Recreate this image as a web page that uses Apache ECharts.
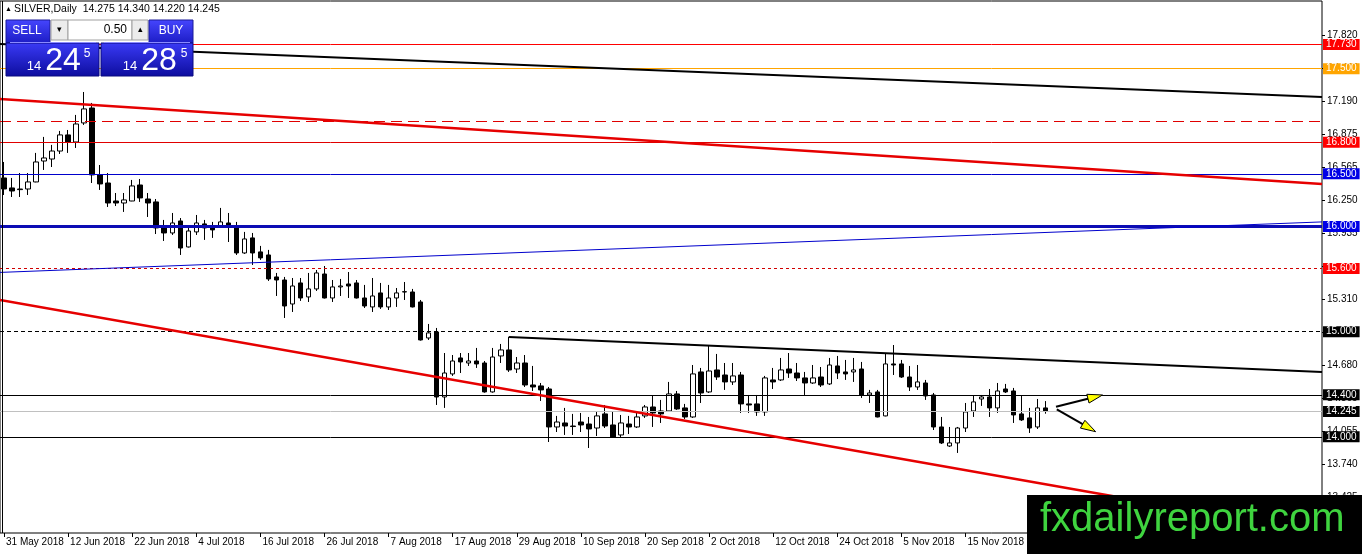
<!DOCTYPE html>
<html><head><meta charset="utf-8">
<script src="https://cdn.jsdelivr.net/npm/echarts@6/dist/echarts.min.js"></script>
<style>html,body{margin:0;padding:0;background:#fff;}#c{width:1362px;height:554px;}</style>
</head><body><div id="c"></div>
<script>
// ---- data (daily bars, 31 May 2018 .. 29 Nov 2018) ----
const tickLabels = ['31 May 2018','12 Jun 2018','22 Jun 2018','4 Jul 2018','16 Jul 2018','26 Jul 2018','7 Aug 2018','17 Aug 2018','29 Aug 2018','10 Sep 2018','20 Sep 2018','2 Oct 2018','12 Oct 2018','24 Oct 2018','5 Nov 2018','15 Nov 2018'];
const open = [16.461,16.366,16.356,16.356,16.423,16.622,16.641,16.717,16.870,16.803,16.984,17.126,16.490,16.413,16.242,16.223,16.242,16.394,16.261,16.233,15.995,15.938,16.052,15.805,15.948,16.024,15.986,16.005,16.033,16.005,15.748,15.891,15.758,15.729,15.520,15.491,15.263,15.463,15.330,15.406,15.548,15.320,15.425,15.453,15.463,15.320,15.235,15.368,15.235,15.320,15.377,15.377,15.282,14.940,14.997,14.379,14.598,14.750,14.702,14.721,14.702,14.427,14.769,14.826,14.645,14.702,14.493,14.484,14.455,14.094,14.132,14.103,14.141,14.122,14.084,14.218,14.113,14.018,14.122,14.094,14.199,14.284,14.246,14.246,14.408,14.275,14.189,14.617,14.427,14.636,14.588,14.522,14.588,14.313,14.313,14.237,14.541,14.541,14.645,14.607,14.560,14.512,14.569,14.503,14.674,14.617,14.617,14.645,14.398,14.427,14.199,14.693,14.693,14.569,14.474,14.512,14.398,14.094,13.913,13.942,14.084,14.246,14.360,14.379,14.275,14.455,14.436,14.218,14.180,14.094,14.275];
const high = [16.613,16.461,16.508,16.508,16.699,16.851,16.775,16.908,16.917,17.060,17.278,17.174,16.584,16.508,16.318,16.318,16.442,16.451,16.318,16.261,16.062,16.128,16.080,15.995,16.109,16.062,16.043,16.176,16.128,16.043,15.948,15.938,15.815,15.777,15.558,15.520,15.510,15.510,15.558,15.586,15.624,15.491,15.501,15.567,15.491,15.444,15.510,15.463,15.444,15.415,15.472,15.406,15.301,15.073,15.035,14.797,14.778,14.797,14.797,14.845,14.721,14.845,14.883,14.950,14.759,14.778,14.674,14.512,14.474,14.199,14.275,14.218,14.227,14.189,14.237,14.303,14.237,14.208,14.199,14.227,14.303,14.389,14.351,14.522,14.436,14.313,14.683,14.655,14.873,14.788,14.702,14.702,14.617,14.398,14.398,14.579,14.655,14.750,14.797,14.702,14.617,14.683,14.664,14.750,14.769,14.731,14.750,14.712,14.446,14.446,14.797,14.873,14.731,14.674,14.683,14.541,14.417,14.189,14.094,14.094,14.322,14.389,14.398,14.455,14.512,14.503,14.465,14.389,14.275,14.360,14.340];
const low = [16.299,16.280,16.280,16.299,16.420,16.537,16.565,16.689,16.699,16.746,16.965,16.413,16.347,16.185,16.194,16.138,16.240,16.233,16.090,15.928,15.862,15.919,15.729,15.800,15.919,15.872,15.891,15.986,15.852,15.729,15.739,15.634,15.682,15.482,15.339,15.130,15.187,15.292,15.282,15.387,15.315,15.282,15.339,15.320,15.315,15.225,15.187,15.216,15.206,15.235,15.301,15.230,14.915,14.921,14.303,14.275,14.579,14.607,14.674,14.655,14.420,14.420,14.702,14.617,14.607,14.474,14.436,14.341,13.951,14.046,14.018,14.018,14.046,13.894,14.008,14.084,13.989,13.989,14.027,14.084,14.180,14.094,14.132,14.237,14.256,14.170,14.180,14.322,14.417,14.541,14.446,14.493,14.227,14.227,14.199,14.199,14.455,14.531,14.560,14.531,14.398,14.503,14.474,14.493,14.550,14.541,14.522,14.370,14.322,14.185,14.195,14.588,14.560,14.436,14.446,14.351,14.065,13.932,13.904,13.847,14.046,14.189,14.294,14.189,14.227,14.417,14.132,14.151,14.037,14.075,14.220];
const close = [16.356,16.337,16.350,16.423,16.613,16.651,16.717,16.870,16.803,16.974,17.117,16.490,16.404,16.223,16.223,16.252,16.385,16.271,16.223,15.986,15.938,16.033,15.795,15.957,16.033,15.986,15.967,16.043,15.995,15.748,15.881,15.748,15.701,15.501,15.491,15.244,15.434,15.320,15.406,15.558,15.320,15.425,15.434,15.434,15.320,15.244,15.339,15.235,15.320,15.368,15.380,15.235,14.921,14.988,14.379,14.607,14.721,14.712,14.721,14.693,14.427,14.759,14.826,14.636,14.702,14.493,14.474,14.446,14.094,14.141,14.103,14.098,14.113,14.075,14.199,14.103,13.999,14.132,14.094,14.189,14.284,14.227,14.218,14.408,14.265,14.189,14.598,14.417,14.626,14.569,14.522,14.579,14.313,14.303,14.237,14.560,14.522,14.636,14.607,14.560,14.512,14.560,14.493,14.683,14.607,14.598,14.636,14.398,14.417,14.189,14.693,14.683,14.569,14.474,14.522,14.389,14.094,13.942,13.942,14.084,14.237,14.332,14.379,14.275,14.436,14.427,14.208,14.161,14.084,14.275,14.245];
const priceTicks = [13.425,13.740,14.055,14.365,14.680,14.995,15.310,15.620,15.935,16.250,16.565,16.875,17.190,17.505,17.820];
const priceTickLabels = [13.425,13.740,14.055,14.365,14.680,14.995,15.310,15.935,16.250,16.565,16.875,17.190,17.505,17.820];
const levelPrices = [17.730,17.500,17.000,16.800,16.500,16.000,15.600,15.000,14.400,14.245,14.000];
// trend lines as [bar index, price] end points
const trendTopBlack = [[-0.5,17.735],[164.5,17.231]];
const trendTopRed   = [[-0.5,17.212],[164.5,16.404]];
const trendBlue     = [[-0.5,15.563],[164.5,16.043]];
const trendLowRed   = [[-0.5,15.301],[164.5,13.086]];
const trendMidBlack = [[63,14.949],[164.5,14.617]];
// arrows: [tailIndex, tailPrice, tipIndex, tipPrice]
const arrowUp   = [131.3,14.286,137.1,14.398];
const arrowDown = [131.4,14.262,136.25,14.049];
const bid = 14.245, ask = 14.285;

// ---- chart ----
const NCAT = 165;
const categories = Array.from({length: NCAT}, (_, i) => String(i));
const candles = open.map((o, i) => [o, close[i], low[i], high[i]]);
const FONT = '"Liberation Sans", Arial, sans-serif';

const levelStyle = [
  {c:'#ff0000', w:1, t:'solid', bg:'#ff0000'},
  {c:'#ffa500', w:1, t:'solid', bg:'#ffa500'},
  {c:'#e00000', w:1, t:[11,6], bg:null},
  {c:'#e00000', w:1, t:'solid', bg:'#ff0000'},
  {c:'#0000cc', w:1, t:'solid', bg:'#0000e6'},
  {c:'#0c0cb4', w:3, t:'solid', bg:'#0000e6'},
  {c:'#d00000', w:1, t:[3,3], bg:'#ff0000'},
  {c:'#000000', w:1, t:[4,3], bg:'#000000'},
  {c:'#000000', w:1, t:'solid', bg:'#000000'},
  {c:'#c0c0c0', w:1, t:'solid', bg:'#000000'},
  {c:'#000000', w:1, t:'solid', bg:'#000000'}
];
const levelData = levelPrices.map((p, i) => {
  const s = levelStyle[i];
  return {
    name: p.toFixed(3),
    yAxis: p,
    lineStyle: {color: s.c, width: s.w, type: s.t},
    label: s.bg ? {show: true, backgroundColor: s.bg} : {show: false}
  };
});

function trend(data, color, width) {
  return {type: 'line', xAxisIndex: 1, yAxisIndex: 0, data: data, showSymbol: false, symbol: 'none',
    lineStyle: {color: color, width: width}, z: 4, silent: true, clip: true, animation: false};
}

const chart = echarts.init(document.getElementById('c'), null, {renderer: 'canvas'});
const blueGrad = () => new echarts.graphic.LinearGradient(0,0,0,1,[{offset:0,color:'#3a3af6'},{offset:1,color:'#0d0d9e'}]);
const btnGrad = () => new echarts.graphic.LinearGradient(0,0,0,1,[{offset:0,color:'#4646ff'},{offset:1,color:'#1c1cc4'}]);

const last = open.length - 1;
const header = 'SILVER,Daily  ' + open[last].toFixed(3) + ' ' + high[last].toFixed(3) + ' ' + low[last].toFixed(3) + ' ' + close[last].toFixed(3);
const bidStr = bid.toFixed(3), askStr = ask.toFixed(3);

chart.setOption({
  animation: false,
  backgroundColor: '#ffffff',
  grid: {left: -1, top: 1, width: 1323, height: 532, show: true, borderColor: '#000', borderWidth: 1, backgroundColor: 'transparent'},
  xAxis: [
    {type: 'category', data: categories, boundaryGap: true,
     axisLine: {show: false, onZero: false},
     axisTick: {show: true, interval: 7, alignWithLabel: true, length: 4, lineStyle: {color: '#000'}},
     axisLabel: {show: true, interval: 7, align: 'left', margin: 4, padding: [0,0,0,2], fontSize: 10, fontFamily: FONT, color: '#000',
       formatter: (v, i) => (i % 8 === 0 && tickLabels[i / 8]) ? tickLabels[i / 8] : ''},
     splitLine: {show: false}},
    {type: 'value', min: -0.5, max: NCAT - 0.5, show: false, axisLine: {onZero: false}, splitLine: {show: false}}
  ],
  yAxis: [{type: 'value', position: 'right', min: 13.086, max: 18.143, scale: true,
    axisLine: {show: false, onZero: false},
    axisTick: {show: true, length: 3, customValues: priceTicks, lineStyle: {color: '#000'}},
    axisLabel: {show: true, customValues: priceTickLabels, margin: 5, fontSize: 10, fontFamily: FONT, color: '#000', formatter: v => v.toFixed(3)},
    splitLine: {show: false}}],
  series: [
    {type: 'candlestick', xAxisIndex: 0, yAxisIndex: 0, data: candles, barWidth: 5,
     itemStyle: {color: '#ffffff', color0: '#000000', borderColor: '#000000', borderColor0: '#000000', borderColorDoji: '#000000', borderWidth: 1},
     markLine: {silent: true, symbol: ['none','none'], animation: false, z: 3,
       label: {position: 'end', distance: 1, color: '#fff', fontSize: 10, fontFamily: FONT, padding: [1,3,0,3], lineHeight: 10,
         formatter: '{b}'},
       data: levelData}},
    trend(trendTopBlack, '#000000', 2),
    trend(trendTopRed, '#e60000', 2.5),
    trend(trendBlue, '#0000cc', 1),
    trend(trendLowRed, '#e60000', 2.5),
    trend(trendMidBlack, '#000000', 2),
    {type: 'custom', xAxisIndex: 1, yAxisIndex: 0, z: 6, silent: true,
     data: [arrowUp, arrowDown],
     encode: {x: [0, 2], y: [1, 3]},
     renderItem: function (params, api) {
       const p0 = api.coord([api.value(0), api.value(1)]);
       const p1 = api.coord([api.value(2), api.value(3)]);
       const dx = p1[0] - p0[0], dy = p1[1] - p0[1];
       const len = Math.sqrt(dx * dx + dy * dy);
       const ux = dx / len, uy = dy / len, nx = -uy, ny = ux;
       const hl = 15, hw = 4.5;
       const b = [p1[0] - ux * hl, p1[1] - uy * hl];
       return {type: 'group', children: [
         {type: 'line', shape: {x1: p0[0], y1: p0[1], x2: b[0] + ux * 2, y2: b[1] + uy * 2}, style: {stroke: '#000', lineWidth: 2}},
         {type: 'polygon', shape: {points: [p1, [b[0] + nx * hw, b[1] + ny * hw], [b[0] - nx * hw, b[1] - ny * hw]]},
          style: {fill: '#ffff00', stroke: '#000', lineWidth: 1}}
       ]};
     }}
  ],
  graphic: [
    {type: 'line', z: 50, shape: {x1: 2.5, y1: 1, x2: 2.5, y2: 533}, style: {stroke: '#000', lineWidth: 1}},
    {type: 'text', z: 100, style: {text: '\u25B2', x: 5, y: 9, font: '7px ' + FONT, fill: '#000', verticalAlign: 'middle'}},
    {type: 'text', z: 100, style: {text: header, x: 14, y: 9, font: '10.5px ' + FONT, fill: '#000', verticalAlign: 'middle'}},
    // one-click trading panel
    {type: 'rect', z: 100, shape: {x: 6, y: 20, width: 44, height: 23}, style: {fill: btnGrad(), stroke: '#1a1a9a', lineWidth: 1}},
    {type: 'text', z: 101, style: {text: 'SELL', x: 27, y: 31, font: '12px ' + FONT, fill: '#fff', align: 'center', verticalAlign: 'middle'}},
    {type: 'rect', z: 100, shape: {x: 51, y: 20, width: 17, height: 20}, style: {fill: '#ececec', stroke: '#a0a0a0', lineWidth: 1}},
    {type: 'text', z: 101, style: {text: '\u25BE', x: 59.5, y: 30, font: '9px ' + FONT, fill: '#000', align: 'center', verticalAlign: 'middle'}},
    {type: 'rect', z: 100, shape: {x: 68, y: 20, width: 64, height: 20}, style: {fill: '#fff', stroke: '#a0a0a0', lineWidth: 1}},
    {type: 'text', z: 101, style: {text: '0.50', x: 127, y: 30, font: '12px ' + FONT, fill: '#000', align: 'right', verticalAlign: 'middle'}},
    {type: 'rect', z: 100, shape: {x: 132, y: 20, width: 16, height: 20}, style: {fill: '#ececec', stroke: '#a0a0a0', lineWidth: 1}},
    {type: 'text', z: 101, style: {text: '\u25B4', x: 140, y: 30, font: '9px ' + FONT, fill: '#000', align: 'center', verticalAlign: 'middle'}},
    {type: 'rect', z: 100, shape: {x: 149, y: 20, width: 44, height: 23}, style: {fill: btnGrad(), stroke: '#1a1a9a', lineWidth: 1}},
    {type: 'text', z: 101, style: {text: 'BUY', x: 171, y: 31, font: '12px ' + FONT, fill: '#fff', align: 'center', verticalAlign: 'middle'}},
    {type: 'rect', z: 100, shape: {x: 6, y: 43, width: 93, height: 33}, style: {fill: blueGrad(), stroke: '#0a0a80', lineWidth: 1}},
    {type: 'rect', z: 100, shape: {x: 101, y: 43, width: 92, height: 33}, style: {fill: blueGrad(), stroke: '#0a0a80', lineWidth: 1}},
    {type: 'line', z: 101, shape: {x1: 10, y1: 42.5, x2: 96, y2: 42.5}, style: {stroke: '#8a8aff', lineWidth: 1}},
    {type: 'line', z: 101, shape: {x1: 104, y1: 42.5, x2: 190, y2: 42.5}, style: {stroke: '#8a8aff', lineWidth: 1}},
    {type: 'text', z: 101, style: {text: bidStr.slice(0, 2), x: 34, y: 66, font: '13px ' + FONT, fill: '#fff', align: 'center', verticalAlign: 'middle'}},
    {type: 'text', z: 101, style: {text: bidStr.slice(3, 5), x: 63, y: 61, font: '32px ' + FONT, fill: '#fff', align: 'center', verticalAlign: 'middle'}},
    {type: 'text', z: 101, style: {text: bidStr.slice(5, 6), x: 87, y: 54, font: '12px ' + FONT, fill: '#fff', align: 'center', verticalAlign: 'middle'}},
    {type: 'text', z: 101, style: {text: askStr.slice(0, 2), x: 130, y: 66, font: '13px ' + FONT, fill: '#fff', align: 'center', verticalAlign: 'middle'}},
    {type: 'text', z: 101, style: {text: askStr.slice(3, 5), x: 159, y: 61, font: '32px ' + FONT, fill: '#fff', align: 'center', verticalAlign: 'middle'}},
    {type: 'text', z: 101, style: {text: askStr.slice(5, 6), x: 184, y: 54, font: '12px ' + FONT, fill: '#fff', align: 'center', verticalAlign: 'middle'}},
    // watermark
    {type: 'rect', z: 100, shape: {x: 1027, y: 495, width: 335, height: 59}, style: {fill: '#000'}},
    {type: 'text', z: 101, style: {text: 'fxdailyreport.com', x: 1040, y: 520, font: '40px ' + FONT, fill: '#3fd43f', verticalAlign: 'middle'}}
  ]
});
</script></body></html>
